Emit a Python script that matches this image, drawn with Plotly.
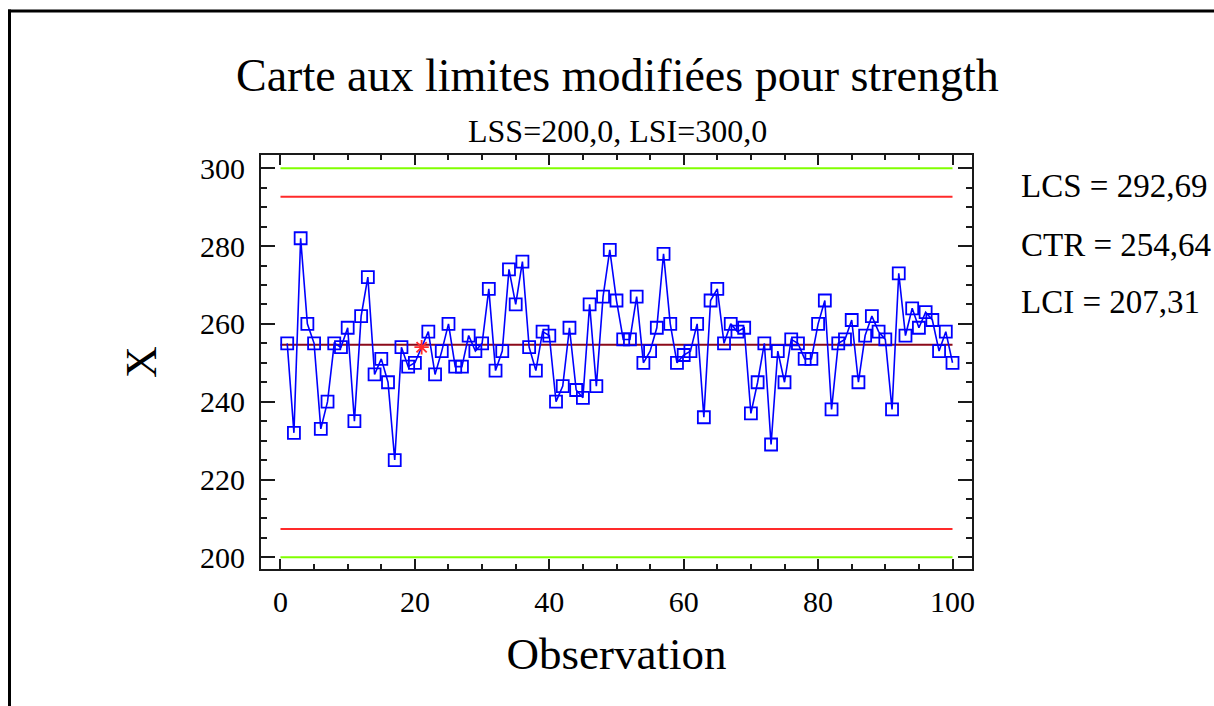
import plotly.graph_objects as go

# Individual strength measurements, observations 1..100
observation = list(range(1, 101))
strength = [
    255, 232, 282, 260, 255, 233, 240, 255, 254, 259,
    235, 262, 272, 247, 251, 245, 225, 254, 249, 250,
    254, 258, 247, 253, 260, 249, 249, 257, 253, 255,
    269, 248, 253, 274, 265, 276, 254, 248, 258, 257,
    240, 244, 259, 243, 241, 265, 244, 267, 279, 266,
    256, 256, 267, 250, 253, 259, 278, 260, 250, 252,
    253, 260, 236, 266, 269, 255, 260, 258, 259, 237,
    245, 255, 229, 253, 245, 256, 255, 251, 251, 260,
    266, 238, 255, 256, 261, 245, 257, 262, 258, 256,
    238, 273, 257, 264, 259, 263, 261, 253, 258, 250,
]
# Observations flagged with an asterisk
flagged = [21]

# Specification limits and modified control limits
spec_lower, spec_upper = 200.0, 300.0
lcs, ctr, lci = 292.69, 254.64, 207.31

x_ticks = [0, 20, 40, 60, 80, 100]
y_ticks = [200, 220, 240, 260, 280, 300]

FONT = "Liberation Serif, Times New Roman, serif"
GREEN = "#80ff00"
RED = "#ff2a2a"
MAROON = "#8b0a1a"
BLUE = "#0000ff"

fig = go.Figure()

x_span = [observation[0] - 1, observation[-1]]
for val, col in [(spec_upper, GREEN), (spec_lower, GREEN), (lcs, RED), (lci, RED), (ctr, MAROON)]:
    fig.add_trace(go.Scatter(
        x=x_span, y=[val, val], mode="lines",
        line=dict(color=col, width=2), hoverinfo="skip", showlegend=False,
    ))

symbols = ["asterisk-open" if o in flagged else "square-open" for o in observation]
colors = [RED if o in flagged else BLUE for o in observation]

fig.add_trace(go.Scatter(
    x=observation, y=strength, mode="lines+markers",
    line=dict(color=BLUE, width=1.6),
    marker=dict(symbol=symbols, size=12, color=colors,
                line=dict(color=colors, width=1.8)),
    showlegend=False,
))

# Plot frame in pixels (figure 1214 x 706)
W, H = 1214, 706
L, R, T, B = 261, 972, 155, 569


def px(xp):
    return (xp - L) / (R - L)


def py(yp):
    return (B - yp) / (B - T)


axis_common = dict(
    showline=True, linecolor="#1a1a1a", linewidth=2, mirror="allticks",
    ticks="inside", tickcolor="#1a1a1a", tickwidth=1.5,
    showgrid=False, zeroline=False,
    tickfont=dict(family=FONT, size=30, color="black"),
)

fig.update_xaxes(
    range=[-2.9, 102.9], tickvals=x_ticks, ticklen=10,
    minor=dict(ticks="inside", dtick=5, tick0=0, ticklen=5, tickcolor="#1a1a1a", showgrid=False),
    ticklabelstandoff=5,
    title=dict(text="Observation", font=dict(family=FONT, size=45, color="black"), standoff=20),
    **axis_common,
)
fig.update_yaxes(
    range=[197.0, 303.4], tickvals=y_ticks, ticklen=14,
    minor=dict(ticks="inside", dtick=5, tick0=200, ticklen=6, tickcolor="#1a1a1a", showgrid=False),
    ticklabelstandoff=8,
    title=dict(text="X", font=dict(family=FONT, size=44, color="black"), standoff=30),
    **axis_common,
)

annotations = [
    dict(text="Carte aux limites modifiées pour strength", x=px(617), y=py(75),
         font=dict(family=FONT, size=46, color="black"), xanchor="center", yanchor="middle"),
    dict(text="LSS=200,0, LSI=300,0", x=px(617), y=py(131),
         font=dict(family=FONT, size=32, color="black"), xanchor="center", yanchor="middle"),
    dict(text=f"LCS = {lcs:.2f}".replace(".", ","), x=px(1019), y=py(186),
         font=dict(family=FONT, size=33, color="black"), xanchor="left", yanchor="middle"),
    dict(text=f"CTR = {ctr:.2f}".replace(".", ","), x=px(1019), y=py(245),
         font=dict(family=FONT, size=33, color="black"), xanchor="left", yanchor="middle"),
    dict(text=f"LCI = {lci:.2f}".replace(".", ","), x=px(1019), y=py(302),
         font=dict(family=FONT, size=33, color="black"), xanchor="left", yanchor="middle"),
]
for a in annotations:
    a.update(xref="paper", yref="paper", showarrow=False)

# Outer page border (top and left edges)
shapes = [
    dict(type="line", xref="paper", yref="paper", x0=px(8), x1=px(W + 20), y0=py(11), y1=py(11),
         line=dict(color="black", width=3)),
    dict(type="line", xref="paper", yref="paper", x0=px(9.5), x1=px(9.5), y0=py(9.5), y1=py(H + 20),
         line=dict(color="black", width=3)),
]

fig.update_layout(
    width=W, height=H,
    margin=dict(l=L, r=W - R, t=T, b=H - B, pad=0),
    paper_bgcolor="white", plot_bgcolor="white",
    annotations=annotations, shapes=shapes,
    font=dict(family=FONT, color="black"),
)

fig.write_html("out.html")
